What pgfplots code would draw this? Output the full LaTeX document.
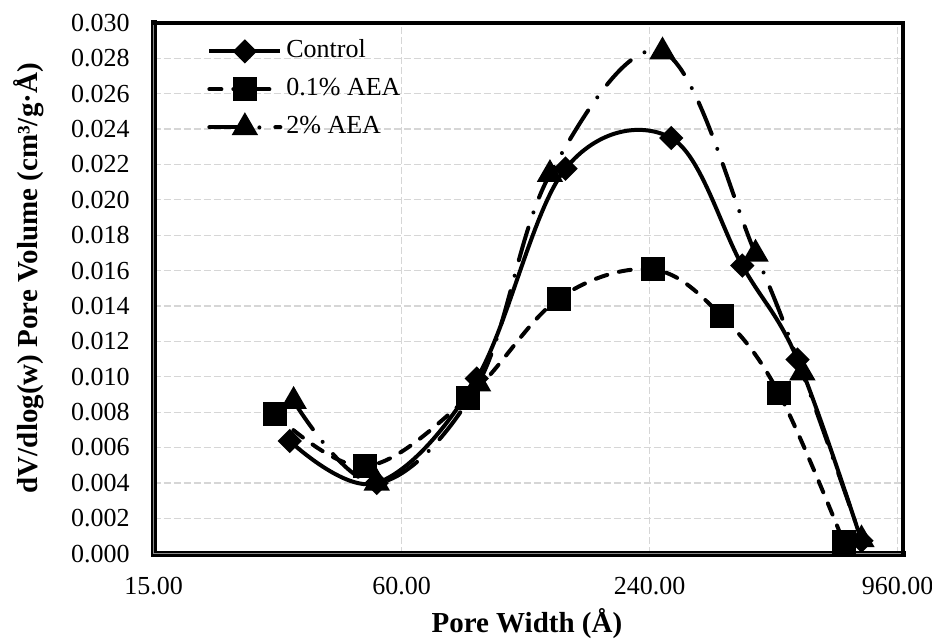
\documentclass[border=0pt]{standalone}
\usepackage{fontspec}
\setmainfont{Liberation Serif}
\usepackage{pgfplots}
\pgfplotsset{compat=1.18}

\begin{document}
\begin{tikzpicture}
\begin{axis}[
  at={(0,0)}, anchor=south west,
  scale only axis, width=374.65pt, height=265.45pt,
  xmode=log, xmin=15, xmax=990,
  ymin=0, ymax=0.030,
  clip=false,
  xtick={15,60,240,960},
  xticklabels={15.00,60.00,240.00,960.00},
  ytick={0,0.002,0.004,0.006,0.008,0.010,0.012,0.014,0.016,0.018,0.020,0.022,0.024,0.026,0.028,0.030},
  yticklabels={0.000,0.002,0.004,0.006,0.008,0.010,0.012,0.014,0.016,0.018,0.020,0.022,0.024,0.026,0.028,0.030},
  scaled y ticks=false,
  /pgf/number format/assume math mode=true,
  tick label style={font=\fontsize{13}{15}\selectfont},
  xticklabel style={anchor=center, yshift=-16pt},
  yticklabel style={anchor=east, xshift=-8.5pt},
  major tick length=0pt,
  axis line style={draw=none},
  xmajorgrids, ymajorgrids,
  major grid style={color=black!16, dash pattern=on 3.5pt off 1.5pt, line width=0.6pt},
  xlabel={Pore Width (Å)},
  ylabel={dV/dlog(w) Pore Volume (cm³/g·Å)},
  label style={font=\bfseries\fontsize{14.5}{17}\selectfont},
  xlabel style={at={(axis description cs:0.498,-0.1324)}, anchor=center},
  ylabel style={at={(axis description cs:-0.1665,0.519)}, anchor=center, rotate=0},
  legend style={draw=none, fill=none, inner sep=0pt,
    at={(axis description cs:0.0711,0.977)}, anchor=north west,
    font=\fontsize{13}{15}\selectfont,
    nodes={text height=9pt, text depth=3pt, inner sep=2pt},
    row sep=3pt},
  legend cell align=left,
  legend image code/.code={%
    \draw[mark repeat=2, mark phase=2, #1]
      plot coordinates {(0pt,0pt) (17.75pt,0pt) (35.5pt,0pt)};},
]

% Control
\addplot[black, line width=2pt, smooth, tension=0.6,
  mark=square*, mark size=3.3pt, mark options={rotate=45, solid, fill=black}]
  coordinates {
  (32.1,0.00637) (52.2,0.0040) (91.3,0.0099) (150,0.02176)
  (271,0.02349) (403,0.01628) (549,0.01097) (785,0.00073)
  };
\addlegendentry{Control}

% 0.1% AEA
\addplot[black, line width=2pt, smooth, tension=0.6,
  dash pattern=on 6pt off 6pt, line cap=round,
  mark=square*, mark size=5pt, mark options={solid, fill=black}]
  coordinates {
  (29.6,0.00787) (48.9,0.00494) (86.8,0.00881) (144.6,0.01442)
  (244,0.01606) (359,0.01344) (494,0.00909) (711,0.00064)
  };
\addlegendentry{0.1\% AEA}

% 2% AEA
\addplot[black, line width=2pt, smooth, tension=0.6,
  dash pattern=on 17pt off 8pt on 0pt off 8pt, line cap=round,
  mark=triangle*, mark size=5.6pt, mark options={solid, fill=black}]
  coordinates {
  (32.8,0.00862) (52.2,0.0040) (92,0.0096) (137.5,0.02144)
  (258,0.02837) (434,0.01694) (564,0.01023) (785,0.0008)
  };
\addlegendentry{2\% AEA}

% plot-area frame: heavy top/right edge, banded left/bottom edge
\draw[line width=2pt, line cap=rect]
  (rel axis cs:0,1) -- (rel axis cs:1,1) -- (rel axis cs:1,0);
\draw[line width=3pt, line cap=rect]
  (rel axis cs:1,0) -- (rel axis cs:0,0) -- (rel axis cs:0,1);
\draw[line width=0.6pt, black!45]
  (rel axis cs:0.997,0) -- (rel axis cs:0,0) -- (rel axis cs:0,0.995);
\end{axis}
\pgfresetboundingbox
\path[use as bounding box] (-76.85pt,-42.65pt) rectangle (389.15pt,276.85pt);
\end{tikzpicture}
\end{document}
